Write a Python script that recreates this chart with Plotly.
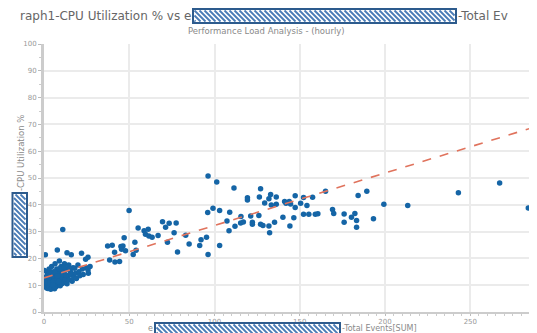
import plotly.graph_objects as go

# ---------------- data ----------------
cluster_events = [0.5, 0.8, 1.0, 1.2, 1.5, 1.8, 2.0, 2.3, 2.5, 2.8,
                  3.0, 3.2, 3.5, 3.8, 4.0, 4.2, 4.5, 4.8, 5.0, 5.2,
                  5.5, 5.8, 6.0, 6.2, 6.5, 6.8, 7.0, 7.2, 7.5, 7.8,
                  8.0, 8.2, 8.5, 8.8, 9.0, 9.2, 9.5, 9.8, 10.0, 10.3,
                  10.5, 11.0, 11.0, 11.3, 11.6, 12.0, 12.3, 12.6, 13.0, 13.5,
                  13.5, 14.0, 14.5, 15.0, 15.5, 16.0, 16.0, 16.5, 17.0, 17.5,
                  18.0, 18.5, 19.0, 19.9, 20.5, 21.0, 22.0, 22.5, 23.0, 24.4,
                  25.0, 25.8, 25.8, 26.0, 27.0,
                  1.3, 2.1, 3.4, 4.6, 5.6, 6.6, 7.6, 8.6, 9.6, 10.8,
                  12.8, 14.8, 3.1, 6.1, 9.1, 11.8, 2.6, 5.1, 7.9, 0.3]
cluster_util = [13, 21.4, 10, 12, 9, 15, 11, 8.8, 13.5, 10,
                16, 9.2, 12, 14, 8.5, 10.5, 17, 11.5, 9, 13,
                15, 10, 12.5, 8.7, 18, 11, 14, 9.5, 16, 23.1,
                12, 10, 15, 13, 19, 11, 9.8, 14.5, 17, 12,
                10.5, 30.8, 15.5, 13, 11, 18, 14, 12, 16, 22.1,
                10.5, 13.5, 17.5, 12, 15, 21.4, 14, 11.5, 16.5, 13,
                16.3, 14.5, 12.5, 17.5, 15, 13.5, 21.9, 16, 14, 19.7,
                16.5, 20.4, 15.7, 14.5, 17,
                11.2, 14.2, 10.8, 13.3, 11.6, 14.8, 12.7, 11.4, 13.2, 14.1,
                13.8, 15.9, 15.2, 9.4, 16.1, 16.8, 12.6, 10.2, 13.4, 15.5]

mid_events = [37.3, 40.0, 38.5, 41.6, 44.3, 41.4, 45.1, 46.3, 47.0, 45.5,
              47.8, 49.9, 52.3, 54.0, 53.3, 55.2, 58.7, 59.5, 61.1, 61.5,
              63.4, 66.9, 69.5, 71.3, 73.4, 72.4, 76.3, 77.5, 78.3, 83.1,
              85.1]
mid_util = [24.6, 24.9, 19.4, 18.7, 18.8, 22.3, 24.4, 24.6, 27.7, 23.4,
            22.9, 37.9, 21.5, 23.0, 26.0, 31.3, 30.3, 29.0, 30.9, 28.4,
            27.9, 28.5, 33.7, 31.6, 33.1, 26.0, 29.6, 33.2, 22.4, 28.6,
            25.4]

high_events = [91.3, 92.1, 95.3, 96.2, 96.2, 101.3, 111.4, 127.0, 119.3, 119.3,
               126.3, 132.9, 131.9, 136.2, 129.4, 133.3, 136.2, 141.1, 143.8, 141.9,
               144.6, 147.3, 147.3, 150.5, 152.2, 154.2, 157.5, 165.1, 96.0, 99.1,
               103.0, 108.9, 107.3, 108.5, 103.0, 112.0, 115.5, 115.3, 116.9, 121.2,
               122.2, 122.2, 126.0, 127.0, 128.4, 131.9, 132.3, 135.2, 140.1, 144.2,
               146.5, 152.2, 155.3, 159.1, 160.6, 169.2, 169.9, 176.0, 176.0, 180.3,
               182.3, 183.3, 183.3, 184.2, 189.3, 193.2, 199.3, 213.3, 243.0, 267.2,
               284.0]
high_util = [24.8, 27.0, 27.9, 21.5, 50.7, 48.5, 46.3, 46.0, 42.6, 41.8,
             42.9, 43.8, 42.3, 42.9, 40.7, 39.9, 40.2, 41.2, 41.2, 40.6,
             40.3, 43.4, 39.0, 40.6, 42.7, 39.7, 42.8, 45.1, 37.1, 38.7,
             37.9, 37.2, 34.0, 30.3, 24.8, 32.0, 35.6, 33.2, 33.6, 35.8,
             33.5, 32.7, 36.0, 32.7, 32.3, 32.1, 29.6, 33.5, 35.4, 32.1,
             35.2, 36.5, 36.5, 36.5, 36.7, 38.2, 36.8, 36.6, 33.5, 35.4,
             36.8, 34.1, 31.6, 43.5, 45.1, 34.8, 40.2, 39.7, 44.5, 48.1,
             38.8]

trend_events = [0, 285]
trend_util = [12.7, 68.5]

y_ticks = [0, 10, 20, 30, 40, 50, 60, 70, 80, 90, 100]
x_ticks = [0, 50, 100, 150, 200, 250]

events = cluster_events + mid_events + high_events
util = cluster_util + mid_util + high_util

# ---------------- layout helpers (reference pixel -> paper) ----------------
# The page body has an 8px default margin, so the figure is drawn 8px smaller
# and every reference pixel position is shifted by that offset.
OFF = 8
W, H = 537 - OFF, 333 - OFF
PL, PR, PT, PB = 44, 530, 44, 312      # plot area in reference pixels
PW, PH = PR - PL, PB - PT


def px(x):
    return (x - PL) / PW


def py(y):
    return (PB - y) / PH


def hatch_box(x0, y0, x1, y1, spacing=5.0):
    shapes = [dict(type="rect", xref="paper", yref="paper",
                   x0=px(x0), x1=px(x1), y0=py(y1), y1=py(y0),
                   fillcolor="white", line=dict(color="#2d5b8d", width=2),
                   layer="above")]
    ix0, iy0, ix1, iy1 = x0 + 1.5, y0 + 1.5, x1 - 1.5, y1 - 1.5
    parts = []
    c = iy0 - ix1
    while c < iy1 - ix0:
        xa = max(ix0, iy0 - c)
        xb = min(ix1, iy1 - c)
        if xb > xa:
            parts.append("M %.5f %.5f L %.5f %.5f" % (px(xa), py(xa + c), px(xb), py(xb + c)))
        c += spacing
    shapes.append(dict(type="path", xref="paper", yref="paper", path=" ".join(parts),
                       line=dict(color="#4a7cb6", width=1.8), layer="above"))
    return shapes


FONT = "DejaVu Sans"

fig = go.Figure()
fig.add_trace(go.Scatter(x=events, y=util, mode="markers",
                         marker=dict(color="#1565a6", size=5.5),
                         showlegend=False, hoverinfo="x+y"))
fig.add_trace(go.Scatter(x=trend_events, y=trend_util, mode="lines",
                         line=dict(color="#e0735d", width=1.6, dash="dash"),
                         showlegend=False, hoverinfo="skip"))

shapes = []
shapes += hatch_box(193, 9, 456, 23)
shapes += hatch_box(155, 323, 340, 335)
shapes += hatch_box(12.5, 193, 27, 257)
shapes.append(dict(type="line", xref="paper", yref="paper", x0=1, x1=1, y0=0, y1=1,
                   line=dict(color="#e6e6e6", width=1.5), layer="below"))

annotations = [
    dict(text="raph1-CPU Utilization % vs e", xref="paper", yref="paper",
         x=px(193), y=py(16), xanchor="right", yanchor="middle", showarrow=False,
         font=dict(family=FONT, size=12, color="#666666")),
    dict(text="-Total Ev", xref="paper", yref="paper",
         x=px(456), y=py(16), xanchor="left", yanchor="middle", showarrow=False,
         font=dict(family=FONT, size=12, color="#666666")),
    dict(text="Performance Load Analysis - (hourly)", xref="paper", yref="paper",
         x=px(266), y=py(31), xanchor="center", yanchor="middle", showarrow=False,
         font=dict(family=FONT, size=8.5, color="#8a8a8a")),
    dict(text="e", xref="paper", yref="paper",
         x=px(155), y=py(328.5), xanchor="right", yanchor="middle", showarrow=False,
         font=dict(family=FONT, size=8, color="#8a8a8a")),
    dict(text="-Total Events[SUM]", xref="paper", yref="paper",
         x=px(340), y=py(328.5), xanchor="left", yanchor="middle", showarrow=False,
         font=dict(family=FONT, size=8, color="#8a8a8a")),
    dict(text="-CPU Utilization %", xref="paper", yref="paper", textangle=-90,
         x=px(21), y=py(193), xanchor="center", yanchor="bottom", showarrow=False,
         font=dict(family=FONT, size=8.5, color="#8a8a8a")),
]

fig.update_layout(
    width=W, height=H,
    margin=dict(l=PL - OFF, r=537 - PR, t=PT - OFF, b=333 - PB, pad=0),
    paper_bgcolor="white", plot_bgcolor="white",
    font=dict(family=FONT, color="#999999", size=7),
    shapes=shapes, annotations=annotations,
    xaxis=dict(range=[0, 285], tickvals=x_ticks, ticktext=[str(v) for v in x_ticks],
               showgrid=True, gridcolor="#ebebeb", gridwidth=1.5,
               showline=True, linecolor="#cccccc", linewidth=2,
               ticks="outside", ticklen=2, tickcolor="#bbbbbb",
               minor=dict(dtick=5, ticks="outside", ticklen=2, tickcolor="#cccccc", showgrid=False),
               zeroline=False, tickfont=dict(size=7, color="#999999")),
    yaxis=dict(range=[0, 100], tickvals=y_ticks, ticktext=[str(v) for v in y_ticks],
               showgrid=True, gridcolor="#ebebeb", gridwidth=1.5,
               showline=True, linecolor="#cccccc", linewidth=3,
               ticks="outside", ticklen=3, tickcolor="#bbbbbb",
               minor=dict(dtick=5, ticks="outside", ticklen=2, tickcolor="#cccccc", showgrid=False),
               zeroline=False, tickfont=dict(size=7, color="#999999")),
)

fig.write_html("out.html")
